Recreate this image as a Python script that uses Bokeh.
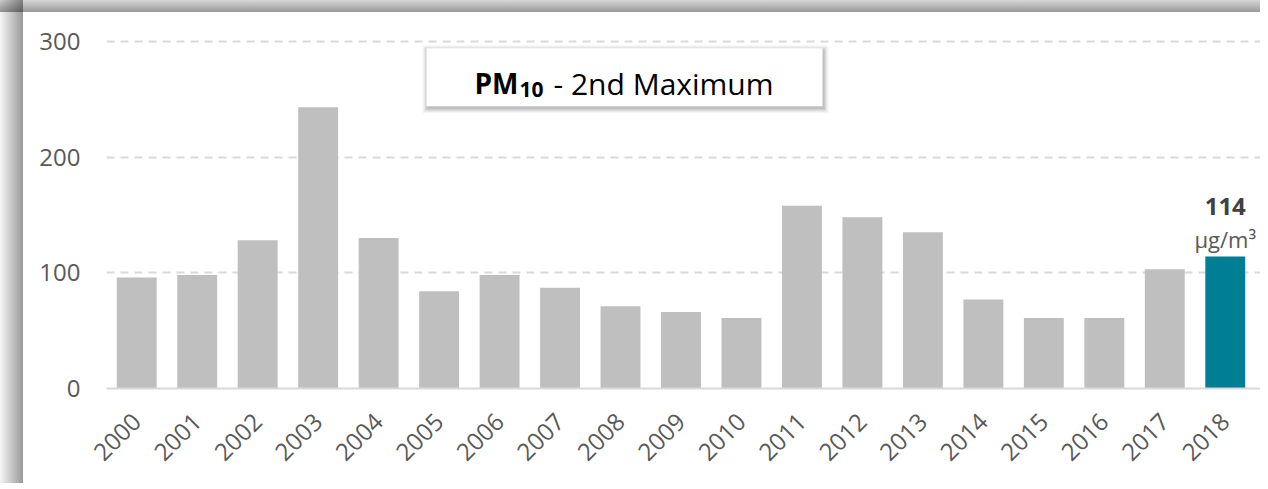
import math
from bokeh.plotting import figure
from bokeh.models import Range1d, FixedTicker, BoxAnnotation, Label, LinearAxis
from bokeh.embed import file_html
from bokeh.resources import INLINE

# ---- data ----
years = [str(y) for y in range(2000, 2019)]
values = [96, 98, 128, 243, 130, 84, 98, 87, 71, 66, 61, 158, 148, 135, 77, 61, 61, 103, 114]
y_ticks = [0, 100, 200, 300]
title_main = "PM"
title_sub = "10"
title_rest = "- 2nd Maximum"
unit_text = "µg/m³"

GREY = "#BFBFBF"
TEAL = "#007E93"
colors = [GREY] * (len(years) - 1) + [TEAL]
FONT = "Open Sans"

n = len(years)
slot = [i + 0.5 for i in range(n)]          # category slot centres

PXU = (1255.0 - 106.0) / n                  # pixels per category slot
right_pad = 5.0 / PXU                       # frame runs a few px past the last slot

W, H = 1260, 483
p = figure(x_range=Range1d(0, n + right_pad), y_range=Range1d(0, 305),
           width=W, height=H, output_backend="svg", toolbar_location=None,
           x_axis_location=None,
           min_border_left=106, min_border_right=0, min_border_top=35, min_border_bottom=95)
p.margin = (0, 0, 0, 0)
# panel drop shadow on the left and top edges, drawn as CSS background behind a transparent border
p.styles = {
    "background": ("linear-gradient(to bottom, rgba(0,0,0,0.16) 0px, rgba(0,0,0,0.40) 12px, transparent 12px) 0 0 / 100% 12px no-repeat, "
                   "linear-gradient(to right, rgba(0,0,0,0.04) 0px, rgba(0,0,0,0.40) 23px, transparent 23px) 0 0 / 23px 100% no-repeat, "
                   "white")
}
p.outline_line_color = None
p.background_fill_color = "white"
p.border_fill_color = None

p.vbar(x=slot, top=values, width=0.66, fill_color=colors, line_color=None)

# category labels
lab_axis = LinearAxis(ticker=FixedTicker(ticks=slot),
                      major_label_overrides={t: y for t, y in zip(slot, years)},
                      major_label_orientation=math.pi / 4)
lab_axis.major_tick_line_color = None
lab_axis.minor_tick_line_color = None
lab_axis.major_tick_out = 0
lab_axis.major_tick_in = 0
lab_axis.axis_line_color = "#D9D9D9"
lab_axis.axis_line_width = 2
lab_axis.major_label_text_font = FONT
lab_axis.major_label_text_font_size = "24px"
lab_axis.major_label_text_color = "#595959"
lab_axis.major_label_standoff = 29
p.add_layout(lab_axis, "below")

p.yaxis.ticker = FixedTicker(ticks=y_ticks)
p.yaxis.axis_line_color = None
p.yaxis.major_tick_line_color = None
p.yaxis.minor_tick_line_color = None
p.yaxis.major_tick_out = 0
p.yaxis.major_label_text_font = FONT
p.yaxis.major_label_text_font_size = "24px"
p.yaxis.major_label_text_color = "#595959"
p.yaxis.major_label_standoff = 26

p.xgrid.grid_line_color = None
p.ygrid.grid_line_color = "#D9D9D9"
p.ygrid.grid_line_width = 2
p.ygrid.grid_line_dash = "8 6"

# pixel -> data helpers for the title box (frame left 106, bottom 388 in page px)
FX0, FY0 = 106.0, 388.0
PYU = (388.0 - 41.0) / 300.0
def dx(px):
    return (px - FX0) / PXU
def dy(py):
    return (FY0 - py) / PYU

# title box with a soft shadow
for e, a in [(5, 0.03), (4, 0.04), (3, 0.05), (2, 0.06), (1, 0.08)]:
    p.add_layout(BoxAnnotation(left=dx(426 - e + 1), right=dx(822 + e + 1), top=dy(48 - e + 2),
                               bottom=dy(106 + e + 2), fill_color="black", fill_alpha=a,
                               line_color=None, level="overlay"))
p.add_layout(BoxAnnotation(left=dx(426), right=dx(822), top=dy(48), bottom=dy(106),
                           fill_color="white", fill_alpha=1, line_color=None, level="overlay"))

p.add_layout(Label(x=dx(474), y=dy(83), text=title_main, text_font=FONT, text_font_style="bold",
                   text_font_size="28px", text_color="black", text_baseline="alphabetic", level="overlay"))
p.add_layout(Label(x=dx(519), y=dy(89), text=title_sub, text_font=FONT, text_font_style="bold",
                   text_font_size="21px", text_color="black", text_baseline="alphabetic", level="overlay"))
p.add_layout(Label(x=dx(553), y=dy(83), text=title_rest, text_font=FONT,
                   text_font_size="30px", text_color="black", text_baseline="alphabetic", level="overlay"))

# last-value annotation above the last bar
p.add_layout(Label(x=slot[-1], y=values[-1], y_offset=50, text=str(values[-1]), text_font=FONT,
                   text_font_style="bold", text_font_size="24px", text_color="#404040",
                   text_align="center", text_baseline="alphabetic"))
p.add_layout(Label(x=slot[-1], y=values[-1], y_offset=18, text=unit_text, text_font=FONT,
                   text_font_size="22px", text_color="#595959",
                   text_align="center", text_baseline="alphabetic"))

open("out.html", "w").write(file_html(p, INLINE))
